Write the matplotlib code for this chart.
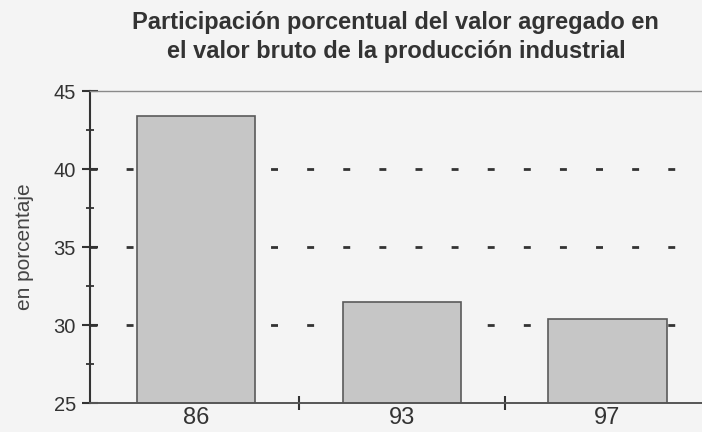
import numpy as np
import matplotlib
matplotlib.use("Agg")
import matplotlib.pyplot as plt
from matplotlib.ticker import MultipleLocator, FixedLocator, NullFormatter

# data
years = ["86", "93", "97"]
share = [43.4, 31.5, 30.4]
grid_levels = [30, 35, 40]

plt.rcParams["font.family"] = ["Liberation Sans", "DejaVu Sans"]
plt.rcParams["lines.scale_dashes"] = False

bg = "#f4f4f4"
fig = plt.figure(figsize=(7.02, 4.32), dpi=100, facecolor=bg)
ax = fig.add_axes([0.128, 0.067, 0.872, 0.722], facecolor=bg)

x = np.arange(len(years))

# dotted guide lines behind the bars
for lvl in grid_levels:
    ax.axhline(lvl, color="#333333", lw=2.0, linestyle=(0, (5.0, 21.0)), zorder=1)

ax.bar(x, share, width=0.575, bottom=0, color="#c6c6c6",
       edgecolor="#5a5a5a", linewidth=1.2, zorder=2)

ax.set_xlim(-0.516, 2.46)
ax.set_ylim(25, 45)

ax.set_xticks(x)
ax.set_xticklabels(years)
ax.xaxis.set_minor_locator(FixedLocator([0.5, 1.5]))
ax.xaxis.set_minor_formatter(NullFormatter())
ax.tick_params(axis="x", which="major", length=0, pad=3, labelsize=17,
               labelcolor="#333333")
ax.tick_params(axis="x", which="minor", direction="inout", length=9.5,
               width=1.5, color="#333333")

ax.yaxis.set_major_locator(MultipleLocator(5))
ax.yaxis.set_minor_locator(MultipleLocator(2.5))
ax.tick_params(axis="y", which="major", direction="inout", length=12,
               width=1.5, pad=4, labelsize=14.5, color="#333333",
               labelcolor="#333333")
ax.tick_params(axis="y", which="minor", direction="inout", length=6,
               width=1.3, color="#333333")

ax.spines["left"].set_color("#333333")
ax.spines["left"].set_linewidth(1.5)
ax.spines["bottom"].set_color("#555555")
ax.spines["bottom"].set_linewidth(1.4)
ax.spines["top"].set_color("#8a8a8a")
ax.spines["top"].set_linewidth(1.0)
ax.spines["right"].set_visible(False)

ax.set_ylabel("en porcentaje", fontsize=15, color="#444444", labelpad=14)
ax.set_title("Participación porcentual del valor agregado en\n"
             "el valor bruto de la producción industrial",
             fontsize=17, fontweight="bold", color="#333333", pad=24,
             linespacing=1.3)

fig.savefig("out.png", dpi=100, facecolor=bg)
